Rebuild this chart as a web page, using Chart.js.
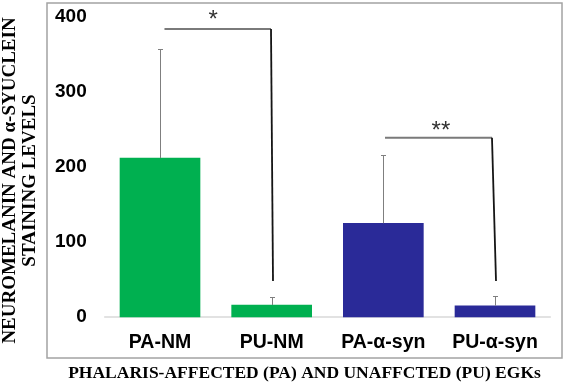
<!DOCTYPE html>
<html>
<head>
<meta charset="utf-8">
<script src="https://cdn.jsdelivr.net/npm/chart.js@4.4.1/dist/chart.umd.min.js"></script>
<style>
  html, body { margin: 0; padding: 0; background: #ffffff; }
  #wrap { width: 564px; height: 383px; position: relative; }
</style>
</head>
<body>
<div id="wrap"><canvas id="c" width="564" height="383"></canvas></div>
<script>
// ---- data ----
const categories = ['PA-NM', 'PU-NM', 'PA-α-syn', 'PU-α-syn'];
const means = [212, 16, 125, 15];
const errors = [145, 11, 91, 13];
const barColors = ['#00b050', '#00b050', '#2a2a98', '#2a2a98'];
const yTicks = [0, 100, 200, 300, 400];
// significance brackets (category-index x, value y)
const bracket1X = [0.04, 0.994, 1.012];
const bracket1Y = [384, 384, 48];
const bracket2X = [2.015, 2.973, 3.009];
const bracket2Y = [239, 239, 48];
const sigText = ['*', '**'];
const sigX = [0.475, 2.516];
const sigY = [396, 247];
const baselineX = [-0.5, 3.5];
const baselineY = [0, 0];

const yTitle = ['NEUROMELANIN AND α-SYUCLEIN', 'STAINING LEVELS'];
const xTitle = 'PHALARIS-AFFECTED (PA) AND UNAFFCTED (PU) EGKs';

const toPts = (xs, ys) => xs.map((x, i) => ({ x: x, y: ys[i] }));

const framePlugin = {
  id: 'frame',
  afterDraw(chart) {
    const { ctx, chartArea: a } = chart;
    ctx.save();
    ctx.strokeStyle = '#a3a3a3';
    ctx.lineWidth = 1.5;
    ctx.strokeRect(a.left, a.top, a.right - a.left, a.bottom - a.top);
    ctx.restore();
  }
};

const errorBarPlugin = {
  id: 'errorBars',
  afterDatasetsDraw(chart) {
    const { ctx } = chart;
    const ys = chart.scales.y;
    const meta = chart.getDatasetMeta(1);
    ctx.save();
    ctx.strokeStyle = '#7f7f7f';
    ctx.lineWidth = 1;
    meta.data.forEach((el, i) => {
      const x = Math.round(el.x) + 0.5;
      const y0 = ys.getPixelForValue(means[i]);
      const y1 = Math.round(ys.getPixelForValue(means[i] + errors[i])) + 0.5;
      ctx.beginPath();
      ctx.moveTo(x, y0);
      ctx.lineTo(x, y1);
      ctx.moveTo(x - 2.5, y1);
      ctx.lineTo(x + 2.5, y1);
      ctx.stroke();
    });
    ctx.restore();
  }
};

const sigPlugin = {
  id: 'sig',
  afterDatasetsDraw(chart) {
    const { ctx } = chart;
    const xs = chart.scales.x, ys = chart.scales.y;
    ctx.save();
    ctx.fillStyle = '#333333';
    ctx.font = '24px "Liberation Sans", Arial, sans-serif';
    ctx.textAlign = 'center';
    ctx.textBaseline = 'middle';
    sigText.forEach((t, i) => {
      ctx.fillText(t, xs.getPixelForValue(sigX[i]), ys.getPixelForValue(sigY[i]));
    });
    ctx.restore();
  }
};

const bracketSegColor = ctx => ctx.p0DataIndex === 0 ? '#7a7a7a' : '#151515';

new Chart(document.getElementById('c'), {
  type: 'bar',
  data: {
    datasets: [
      {
        type: 'line',
        data: toPts(baselineX, baselineY),
        borderColor: '#d9d9d9',
        borderWidth: 1.5,
        pointRadius: 0,
        order: 10
      },
      {
        type: 'bar',
        data: categories.map((c, i) => ({ x: i, y: means[i] })),
        backgroundColor: barColors,
        borderWidth: 0,
        barThickness: 80,
        order: 5
      },
      {
        type: 'line',
        data: toPts(bracket1X, bracket1Y),
        borderWidth: 1.8,
        borderColor: '#151515',
        segment: { borderColor: bracketSegColor },
        pointRadius: 0,
        order: 1
      },
      {
        type: 'line',
        data: toPts(bracket2X, bracket2Y),
        borderWidth: 1.8,
        borderColor: '#151515',
        segment: { borderColor: bracketSegColor },
        pointRadius: 0,
        order: 1
      }
    ]
  },
  options: {
    responsive: false,
    animation: false,
    layout: { padding: { top: 3, right: 2, left: 0, bottom: 0 } },
    plugins: {
      legend: { display: false },
      tooltip: { enabled: false },
      title: {
        display: true,
        fullSize: false,
        position: 'left',
        text: yTitle,
        color: '#000000',
        font: { family: '"Liberation Serif", "Times New Roman", serif', size: 19, weight: 'bold', lineHeight: '20px' },
        padding: { top: 0, bottom: 7 }
      }
    },
    scales: {
      x: {
        type: 'linear',
        offset: false,
        min: -1.012,
        max: 3.6,
        grid: { display: false, drawTicks: false },
        border: { display: false },
        afterBuildTicks: s => { s.ticks = categories.map((c, i) => ({ value: i })); },
        afterFit: s => { s.height = 25; s.paddingLeft = 0; s.paddingRight = 0; },
        ticks: {
          mirror: true,
          padding: 4,
          color: '#000000',
          font: { family: '"Liberation Sans", Arial, sans-serif', size: 19.5, weight: 'bold' },
          callback: v => categories[v],
          maxRotation: 0,
          autoSkip: false
        },
        title: {
          display: true,
          text: xTitle,
          color: '#000000',
          font: { family: '"Liberation Serif", "Times New Roman", serif', size: 17.5, weight: 'bold', lineHeight: '20px' },
          padding: { top: 0, bottom: 0 }
        }
      },
      y: {
        type: 'linear',
        min: -54.67,
        max: 418.67,
        grid: { display: false, drawTicks: false },
        border: { display: false },
        afterBuildTicks: s => { s.ticks = yTicks.map(v => ({ value: v })); },
        afterFit: s => { s.width = 0; s.paddingTop = 0; s.paddingBottom = 0; },
        ticks: {
          mirror: true,
          crossAlign: 'far',
          padding: 8,
          color: '#000000',
          font: { family: '"Liberation Sans", Arial, sans-serif', size: 19, weight: 'bold' }
        }
      }
    }
  },
  plugins: [framePlugin, errorBarPlugin, sigPlugin]
});
</script>
</body>
</html>
